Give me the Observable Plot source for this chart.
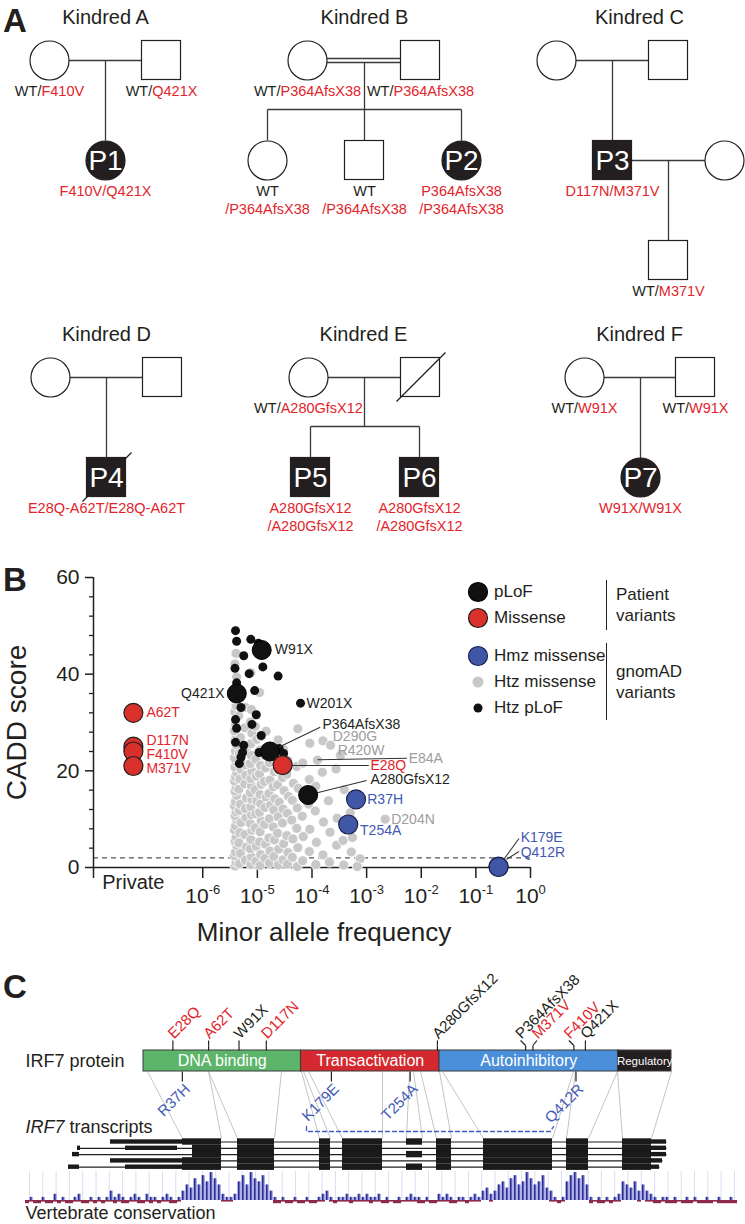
<!DOCTYPE html>
<html>
<head>
<meta charset="utf-8">
<script src="https://cdn.jsdelivr.net/npm/d3@7"></script>
<script src="https://cdn.jsdelivr.net/npm/@observablehq/plot@0.6"></script>
<style>
html,body{margin:0;padding:0;background:#fff;}
#page{position:relative;width:745px;height:1224px;overflow:hidden;font-family:"Liberation Sans",Arial,Helvetica,sans-serif;color:#231f20;}
.panel{position:absolute;left:0;}
.letter{position:absolute;left:3px;font-weight:bold;font-size:33px;line-height:33px;}
.lg{position:absolute;font-size:17px;line-height:21px;white-space:nowrap;}
</style>
</head>
<body>
<div id="page">
  <div class="panel" id="panelA" style="top:0"></div>
  <div class="panel" id="panelB" style="top:550px"></div>
  <div class="panel" id="panelC" style="top:970px"></div>
  <div class="letter" style="top:4px">A</div>
  <div class="letter" style="top:563px">B</div>
  <div class="letter" style="top:970px">C</div>
  <div id="legend"></div>
</div>
<script>
// ======================= DATA =======================
// ---- Panel A: pedigrees ----
const kindreds = ["A", "B", "C", "D", "E", "F"];
const people = [
  {kindred: "A", sex: "F", affected: false, patient: "", genotype: "WT/F410V"},
  {kindred: "A", sex: "M", affected: false, patient: "", genotype: "WT/Q421X"},
  {kindred: "A", sex: "F", affected: true,  patient: "P1", genotype: "F410V/Q421X"},
  {kindred: "B", sex: "F", affected: false, patient: "", genotype: "WT/P364AfsX38"},
  {kindred: "B", sex: "M", affected: false, patient: "", genotype: "WT/P364AfsX38"},
  {kindred: "B", sex: "F", affected: false, patient: "", genotype: "WT\n/P364AfsX38"},
  {kindred: "B", sex: "M", affected: false, patient: "", genotype: "WT\n/P364AfsX38"},
  {kindred: "B", sex: "F", affected: true,  patient: "P2", genotype: "P364AfsX38\n/P364AfsX38"},
  {kindred: "C", sex: "F", affected: false, patient: "", genotype: ""},
  {kindred: "C", sex: "M", affected: false, patient: "", genotype: ""},
  {kindred: "C", sex: "M", affected: true,  patient: "P3", genotype: "D117N/M371V"},
  {kindred: "C", sex: "F", affected: false, patient: "", genotype: ""},
  {kindred: "C", sex: "M", affected: false, patient: "", genotype: "WT/M371V"},
  {kindred: "D", sex: "F", affected: false, patient: "", genotype: ""},
  {kindred: "D", sex: "M", affected: false, patient: "", genotype: ""},
  {kindred: "D", sex: "M", affected: true,  patient: "P4", genotype: "E28Q-A62T/E28Q-A62T", deceased: true},
  {kindred: "E", sex: "F", affected: false, patient: "", genotype: "WT/A280GfsX12"},
  {kindred: "E", sex: "M", affected: false, patient: "", genotype: "", deceased: true},
  {kindred: "E", sex: "M", affected: true,  patient: "P5", genotype: "A280GfsX12\n/A280GfsX12"},
  {kindred: "E", sex: "M", affected: true,  patient: "P6", genotype: "A280GfsX12\n/A280GfsX12"},
  {kindred: "F", sex: "F", affected: false, patient: "", genotype: "WT/W91X"},
  {kindred: "F", sex: "M", affected: false, patient: "", genotype: "WT/W91X"},
  {kindred: "F", sex: "F", affected: true,  patient: "P7", genotype: "W91X/W91X"}
];
// pedigree layout (drawing positions)
const peoplePos = [[49,60],[161,60],[105,160],[307,60],[420,60],[267,160],[364,160],[461,160],
  [556,60],[668,60],[612,160],[724,160],[668,260],[50,377],[162,377],[106,477],[308,377],[420,377],
  [310,477],[419,477],[584,377],[695,377],[640,477]];
const kindredTitlePos = [[105,23],[364,23],[639,23],[106,340],[363,340],[639,340]];
const pedigreeLines = [
  [68,60,142,60],[105,60,105,140],
  [326,58,401,58],[326,62,401,62],[364,62,364,109],[267,109,461,109],[267,109,267,140],[364,109,364,140],[461,109,461,140],
  [575,60,649,60],[612,60,612,140],[631,160,705,160],[668,160,668,240],
  [69,377,143,377],[106,377,106,458],
  [327,377,401,377],[364,377,364,426],[310,426,419,426],[310,426,310,458],[419,426,419,458],
  [603,377,676,377],[640,377,640,458]
];

// ---- Panel B: CADD vs MAF ----
const patientPLoF = [
  {name: "W91X", maf: 1.2e-5, cadd: 45},
  {name: "Q421X", maf: 4.2e-6, cadd: 36},
  {name: "P364AfsX38", maf: 1.7e-5, cadd: 24},
  {name: "A280GfsX12", maf: 8.5e-5, cadd: 15}
];
const patientMissense = [
  {name: "E28Q", maf: 2.9e-5, cadd: 21.2},
  {name: "A62T", maf: null, cadd: 32},
  {name: "D117N", maf: null, cadd: 25},
  {name: "F410V", maf: null, cadd: 24},
  {name: "M371V", maf: null, cadd: 21}
];
const gnomadHmzMissense = [
  {name: "R37H", maf: 6.4e-4, cadd: 14.1},
  {name: "T254A", maf: 4.6e-4, cadd: 8.9},
  {name: "K179E", maf: 0.26, cadd: 0.2},
  {name: "Q412R", maf: 0.26, cadd: 0.1}
];
// [log10 MAF, CADD]
const gnomadHtzMissense = [
[-5.41,0.3],[-5.39,1.1],[-5.42,2.4],[-5.40,3.2],[-5.38,4.6],[-5.41,5.5],[-5.39,6.3],[-5.42,7.8],[-5.40,8.6],[-5.38,9.9],[-5.41,10.7],[-5.39,11.5],[-5.42,12.8],[-5.40,13.6],[-5.38,14.9],[-5.41,15.8],[-5.39,16.6],[-5.42,17.9],[-5.40,18.7],[-5.38,19.6],[-5.41,20.8],[-5.39,21.9],[-5.42,22.7],[-5.40,24.1],[-5.38,25.3],[-5.41,26.2],[-5.39,27.4],[-5.42,28.3],[-5.40,29.6],[-5.38,30.8],[-5.41,32.2],[-5.39,33.5],[-5.42,34.9],[-5.40,37.2],[-5.38,39.4],[-5.41,42.1],[-5.39,44.3],
[-5.33,0.8],[-5.31,2.9],[-5.34,5.1],[-5.32,7.2],[-5.30,9.3],[-5.33,11.8],[-5.31,13.1],[-5.34,16.2],[-5.32,18.3],[-5.30,20.3],[-5.33,23.5],[-5.31,26.9],[-5.34,31.4],[-5.32,35.8],
[-5.22,1.5],[-5.20,4.2],[-5.23,6.8],[-5.21,10.3],[-5.22,12.2],[-5.20,14.4],[-5.23,17.3],[-5.21,19.1],[-5.22,21.2],[-5.20,24.6],[-5.23,28.9],[-5.21,33.1],
[-5.12,0.6],[-5.11,2.2],[-5.13,3.9],[-5.12,5.8],[-5.10,7.7],[-5.13,9.1],[-5.11,10.9],[-5.12,12.6],[-5.10,14.1],[-5.13,15.5],[-5.11,16.9],[-5.12,18.4],[-5.10,19.9],[-5.13,21.5],[-5.11,23.2],[-5.12,25.6],[-5.10,27.8],[-5.13,30.1],[-5.11,32.7],[-5.12,40.3],
[-5.03,1.3],[-5.02,4.4],[-5.04,8.2],[-5.03,11.1],[-5.01,13.7],[-5.04,16.1],[-5.02,18.9],[-5.03,22.4],[-5.01,26.5],[-5.04,29.2],
[-4.95,0.4],[-4.94,2.7],[-4.96,5.3],[-4.95,7.4],[-4.93,9.6],[-4.96,11.4],[-4.94,13.2],[-4.95,15.1],[-4.93,17.2],[-4.96,19.4],[-4.94,21.1],[-4.95,24.3],[-4.93,27.1],[-4.96,36.2],
[-4.86,1.9],[-4.85,4.8],[-4.87,8.9],[-4.86,12.4],[-4.84,14.6],[-4.87,17.8],[-4.85,20.6],[-4.86,23.1],[-4.84,28.2],
[-4.78,0.9],[-4.77,3.4],[-4.79,6.1],[-4.78,10.1],[-4.76,12.9],[-4.79,15.3],[-4.77,18.1],[-4.78,21.7],[-4.76,25.1],
[-4.70,2.3],[-4.69,5.7],[-4.71,8.4],[-4.70,11.9],[-4.68,14.2],[-4.71,16.7],[-4.69,19.8],[-4.70,22.9],
[-4.62,0.5],[-4.61,3.8],[-4.63,7.1],[-4.62,10.5],[-4.60,13.5],[-4.63,17.1],[-4.61,20.1],[-4.62,26.4],
[-4.53,1.6],[-4.52,4.9],[-4.54,9.2],[-4.53,12.1],[-4.51,15.9],[-4.54,18.6],[-4.52,24.4],
[-4.45,0.7],[-4.44,3.1],[-4.46,6.6],[-4.45,11.2],[-4.43,14.7],[-4.46,19.3],[-4.44,22.1],
[-4.36,2.1],[-4.35,5.9],[-4.37,9.8],[-4.36,13.9],[-4.34,17.4],
[-4.27,0.2],[-4.26,4.1],[-4.28,8.1],[-4.27,12.3],[-4.25,16.4],[-4.28,20.9],[-4.26,28.7],
[-4.17,1.4],[-4.16,6.4],[-4.18,10.6],[-4.17,21.6],
[-4.05,3.3],[-4.04,7.9],[-4.06,13.1],[-4.05,18.2],[-4.04,25.7],
[-3.93,0.6],[-3.92,5.2],[-3.94,11.7],[-3.90,22.2],[-3.93,16.8],
[-3.80,2.6],[-3.79,9.4],[-3.81,19.7],[-3.80,26.2],
[-3.68,1.1],[-3.67,7.3],[-3.70,13.8],[-3.66,25.3],
[-3.55,4.6],[-3.54,10.2],[-3.56,20.4],[-3.48,23.2],
[-3.42,0.5],[-3.43,5.6],[-3.41,16.1],
[-3.28,3.2],[-3.26,6.2],[-3.30,11.3],
[-3.12,1.8],[-3.17,0.2],
[-2.66,10]
];
const gnomadHtzPLoF = [
[-5.40,49],[-5.38,46.8],[-5.12,47.2],[-4.98,46.4],[-5.25,43.8],[-5.41,41.2],[-4.90,41.5],[-5.15,40.1],
[-4.62,39.6],[-5.38,38.2],[-5.05,36.6],[-4.21,34],[-5.30,33.1],[-5.02,31.6],[-5.40,30.6],[-5.10,29.6],
[-5.38,28.8],[-4.93,27.3],[-5.40,25.9],[-5.25,25.3],[-5.27,23.8],[-5.33,21.5],[-5.30,22.8],[-4.97,23.8],
[-4.52,23.6],[-4.60,24.6]
];
const yTicksMajor = [0, 20, 40, 60];
const yTicksMinor = [4, 8, 12, 16, 24, 28, 32, 36, 44, 48, 52, 56];
const xTicks = [1e-8, 1e-6, 1e-5, 1e-4, 1e-3, 1e-2, 1e-1, 1];
const caddThreshold = 2;
const legendLabels = ["pLoF", "Missense", "Hmz missense", "Htz missense", "Htz pLoF"];
const legendGroups = [["Patient", "variants"], ["gnomAD", "variants"]];
// annotation layout (label anchor positions in data space)
const PRIVATE_MAF = Math.pow(10, -7.27);
const labelsB = [
  {text: "W91X", lx: -4.92, y: 45, dx: 13, anchor: "start", c: "k"},
  {text: "Q421X", lx: -5.38, y: 36, dx: -12, anchor: "end", c: "k"},
  {text: "W201X", lx: -4.21, y: 34, dx: 6, anchor: "start", c: "k"},
  {text: "P364AfsX38", lx: -3.81, y: 29.6, dx: 0, anchor: "start", c: "k"},
  {text: "D290G", lx: -3.62, y: 27.0, dx: 0, anchor: "start", c: "g"},
  {text: "R420W", lx: -3.53, y: 24.2, dx: 0, anchor: "start", c: "g"},
  {text: "E84A", lx: -2.23, y: 22.6, dx: 0, anchor: "start", c: "g"},
  {text: "E28Q", lx: -2.93, y: 21.1, dx: 0, anchor: "start", c: "r"},
  {text: "A280GfsX12", lx: -2.93, y: 18.2, dx: 0, anchor: "start", c: "k"},
  {text: "R37H", lx: -3.19, y: 14.1, dx: 11, anchor: "start", c: "b"},
  {text: "D204N", lx: -2.66, y: 10, dx: 6, anchor: "start", c: "g"},
  {text: "T254A", lx: -3.34, y: 7.7, dx: 12, anchor: "start", c: "b"},
  {text: "K179E", lx: -0.18, y: 6.3, dx: 0, anchor: "start", c: "b"},
  {text: "Q412R", lx: -0.18, y: 3.2, dx: 0, anchor: "start", c: "b"},
  {text: "A62T", lx: null, y: 32, dx: 13, anchor: "start", c: "r"},
  {text: "D117N", lx: null, y: 26.3, dx: 13, anchor: "start", c: "r"},
  {text: "F410V", lx: null, y: 23.4, dx: 13, anchor: "start", c: "r"},
  {text: "M371V", lx: null, y: 20.4, dx: 13, anchor: "start", c: "r"}
];
const leadersB = [
  {lx1: -4.77, y1: 24, lx2: -3.85, y2: 29.0},
  {lx1: -4.53, y1: 21.1, lx2: -2.96, y2: 21.1},
  {lx1: -3.90, y1: 22.3, lx2: -2.26, y2: 22.6},
  {lx1: -4.07, y1: 15, lx2: -3.0, y2: 18.0},
  {lx1: -0.50, y1: 1.5, lx2: -0.21, y2: 6.0},
  {lx1: -0.44, y1: 1.7, lx2: -0.21, y2: 3.3}
];

// ---- Panel C: IRF7 protein / transcripts ----
const proteinLength = 503;
const domainNames = ["DNA binding", "Transactivation", "Autoinhibitory", "Regulatory"];
const domainStart = [0, 150, 282, 452];
const domainEnd = [150, 282, 452, 503];
const upperMutations = [
  {aa: 28, name: "E28Q", type: "missense"}, {aa: 62, name: "A62T", type: "missense"},
  {aa: 91, name: "W91X", type: "pLoF"}, {aa: 117, name: "D117N", type: "missense"},
  {aa: 280, name: "A280GfsX12", type: "pLoF"}, {aa: 364, name: "P364AfsX38", type: "pLoF"},
  {aa: 371, name: "M371V", type: "missense"}, {aa: 410, name: "F410V", type: "missense"},
  {aa: 421, name: "Q421X", type: "pLoF"}
];
const lowerMutations = [
  {aa: 37, name: "R37H"}, {aa: 179, name: "K179E"}, {aa: 254, name: "T254A"}, {aa: 412, name: "Q412R"}
];
const upperBend = {"P364AfsX38": -5, "M371V": 4, "F410V": -5};
// transcript structure (track layout)
const codingExons = [[182,221],[237,274],[319,330],[342,382],[436,451],[483,552],[566,588],[622,651]];
const altExon = [406, 422];
const altExonRows = [0, 2, 4];
const firstExonStart = [182, 192, 192, 182, 182];
const transcriptSpan = [[110,666],[77,666],[72,666],[110,662],[68,659]];
const utrBlocks = [[0,110,182],[1,77,80],[1,125,177],[2,72,79],[3,110,182],[4,68,79],[4,125,182],
  [0,651,666],[1,651,666],[2,651,666],[3,651,662],[4,651,659]];
const mapLines = [[147,182],[208,221],[208,237],[281,274],[301,319],[303,330],[308,342],[382,382],[409,406],
  [413,422],[420,436],[439,451],[442,483],[573,552],[575,566],[617,588],[617,622],[671,651]];
// conservation levels (0-9) in 4px bins from x=25, and negative (0-2)
const consLevels = "010010020100"+"120010101"+"312101210211012101"+"3547586975"+"2112"+"685976853"+"101001001001"+"231"+"01"+"1211212112"+"010010"+"1211"+"0100"+"2121"+"0110121"+"3423"+"56478569756843"+"101"+"689785"+"10101012"+"65463532"+"101101001010010010010";
const consNeg = "212212212122"+"112212121"+"121221122121211221"+"0000000000"+"1110"+"000000000"+"221221221221"+"101"+"21"+"1121111211"+"221221"+"1112"+"2122"+"1112"+"2112111"+"0010"+"00000000000001"+"121"+"000000"+"21221211"+"00001011"+"221222122212222122222";

// ======================= STYLE =======================
const BLACK = "#231f20", RED = "#e3242b", TBLUE = "#3f5ab5", TGRAY = "#9d9d9d";
const MISS = "#d8302b", HMZ = "#4057a8";
const FONT = '"Liberation Sans", Arial, Helvetica, sans-serif';
const baseStyle = {fontFamily: FONT, background: "transparent", color: BLACK, overflow: "visible"};
const textColor = {k: BLACK, r: RED, b: TBLUE, g: TGRAY};

// ======================= PANEL A =======================
const ppl = people.map((p, i) => ({...p, x: peoplePos[i][0], y: peoplePos[i][1]}));
const circles = ppl.filter(p => p.sex === "F");
const squares = ppl.filter(p => p.sex === "M");
const slashes = ppl.filter(p => p.deceased);
const titles = kindreds.map((k, i) => ({text: "Kindred " + k, x: kindredTitlePos[i][0], y: kindredTitlePos[i][1]}));
const genoLines = [];
ppl.forEach(p => {
  if (!p.genotype) return;
  p.genotype.split("\n").forEach((line, j) => {
    genoLines.push({text: line, x: p.x, y: p.y + 35 + j * 18,
      fill: (p.affected ? RED : (line === "WT" || line.startsWith("WT/") ? BLACK : RED))});
  });
});
const links = pedigreeLines.map(([x1, y1, x2, y2]) => ({x1, y1, x2, y2}));
const S = 19.5;
const plotA = Plot.plot({
  width: 745, height: 550, margin: 0,
  x: {domain: [0, 745], range: [0, 745], axis: null},
  y: {domain: [0, 550], range: [0, 550], axis: null},
  color: {type: "identity"},
  style: baseStyle,
  marks: [
    Plot.link(links, {x1: "x1", y1: "y1", x2: "x2", y2: "y2", stroke: "#3a3a3a", strokeWidth: 1.3}),
    Plot.dot(circles, {x: "x", y: "y", r: S, fill: d => d.affected ? BLACK : "white", stroke: BLACK, strokeWidth: 1.2}),
    Plot.rect(squares, {x1: d => d.x - S, x2: d => d.x + S, y1: d => d.y - S, y2: d => d.y + S,
      fill: d => d.affected ? BLACK : "white", stroke: BLACK, strokeWidth: 1.2}),
    Plot.link(slashes, {x1: d => d.x - 24, y1: d => d.y + 24, x2: d => d.x + 25, y2: d => d.y - 25, stroke: BLACK, strokeWidth: 1.3}),
    Plot.text(ppl.filter(p => p.patient), {x: "x", y: "y", text: "patient", fill: "white", fontSize: 28, lineAnchor: "middle", dy: 1}),
    Plot.text(titles, {x: "x", y: "y", text: "text", fontSize: 20, lineAnchor: "bottom", fill: BLACK}),
    Plot.text(genoLines, {x: "x", y: "y", text: "text", fill: "fill", fontSize: 14.5, lineAnchor: "bottom"})
  ]
});
d3.select(plotA).selectAll("text").each(function () {
  const t = this.textContent;
  if (this.children.length === 0 && /^WT\/.+/.test(t)) {
    this.textContent = "";
    const s = d3.select(this);
    s.append("tspan").attr("fill", BLACK).text("WT/");
    s.append("tspan").attr("fill", RED).text(t.slice(3));
  }
});
document.getElementById("panelA").appendChild(plotA);

// ======================= PANEL B =======================
const grayPts = gnomadHtzMissense.map(([lx, c]) => ({maf: Math.pow(10, lx), cadd: c}));
const blackPts = gnomadHtzPLoF.map(([lx, c]) => ({maf: Math.pow(10, lx), cadd: c}));
const mafOf = d => d.maf == null ? PRIVATE_MAF : d.maf;
const lblB = labelsB.map(d => ({...d, x: d.lx == null ? PRIVATE_MAF : Math.pow(10, d.lx), fill: textColor[d.c]}));
const leadB = leadersB.map(d => ({x1: Math.pow(10, d.lx1), x2: Math.pow(10, d.lx2), y1: d.y1, y2: d.y2}));
const labelMarks = lblB.map(d => Plot.text([d], {x: "x", y: "y", text: "text", fill: d.fill,
  textAnchor: d.anchor, dx: d.dx, fontSize: 14}));
const plotB = Plot.plot({
  width: 745, height: 420, marginLeft: 93, marginRight: 215, marginTop: 27, marginBottom: 103,
  x: {type: "log", domain: [1e-8, 1], axis: null},
  y: {domain: [0, 60], axis: null},
  color: {type: "identity"},
  style: baseStyle,
  marks: [
    Plot.ruleY([caddThreshold], {stroke: "#555", strokeWidth: 1.2, strokeDasharray: "5,4"}),
    Plot.ruleY([0], {stroke: BLACK, strokeWidth: 1.5}),
    Plot.ruleX([1e-8], {y1: 0, y2: 60, stroke: BLACK, strokeWidth: 1.5}),
    Plot.axisY({ticks: yTicksMajor, tickSize: 8, tickPadding: 6, fontSize: 21, label: null, stroke: BLACK, strokeWidth: 1.5}),
    Plot.axisY({ticks: yTicksMinor, tickSize: 4, tickFormat: () => "", label: null, stroke: BLACK, strokeWidth: 1.3}),
    Plot.axisX({ticks: xTicks, tickSize: 11, tickPadding: 10, fontSize: 21, label: null, stroke: BLACK, strokeWidth: 1.5,
      tickFormat: d => d === 1e-8 ? "" : "10^" + Math.round(Math.log10(d))}),
    Plot.dot(grayPts, {x: "maf", y: "cadd", r: 5, fill: "#c8c8c8", stroke: "white", strokeWidth: 0.8}),
    Plot.dot(blackPts, {x: "maf", y: "cadd", r: 4.5, fill: "#111"}),
    Plot.link(leadB, {x1: "x1", y1: "y1", x2: "x2", y2: "y2", stroke: "#333", strokeWidth: 1.1}),
    Plot.dot(patientPLoF, {x: mafOf, y: "cadd", r: 9.5, fill: "#111", stroke: "#000", strokeWidth: 1}),
    Plot.dot(patientMissense, {x: mafOf, y: "cadd", r: 9.5, fill: MISS, stroke: BLACK, strokeWidth: 1.2}),
    Plot.dot(gnomadHmzMissense, {x: "maf", y: "cadd", r: 9.5, fill: HMZ, stroke: "#1d2450", strokeWidth: 1.2}),
    ...labelMarks,
    Plot.text(["Private"], {x: PRIVATE_MAF, y: 0, text: d => d, fontSize: 20, dy: 21, lineAnchor: "bottom"}),
    Plot.text(["CADD score"], {frameAnchor: "left", text: d => d, rotate: -90, dx: -68, fontSize: 28,
      textAnchor: "middle", lineAnchor: "bottom"}),
    Plot.text(["Minor allele frequency"], {frameAnchor: "bottom", text: d => d, dx: 12, dy: 73, fontSize: 26,
      textAnchor: "middle", lineAnchor: "bottom"})
  ]
});
d3.select(plotB).selectAll("text").each(function () {
  const m = /^10\^(-?\d+)$/.exec(this.textContent);
  if (m && this.children.length === 0) {
    this.textContent = "";
    const s = d3.select(this);
    s.append("tspan").text("10");
    s.append("tspan").attr("font-size", 13).attr("dy", -9).text(m[1]);
  }
});
document.getElementById("panelB").appendChild(plotB);

// legend (HTML, beside the plot)
const legendStyle = [
  {fill: "#111", stroke: "#000", r: 9.5}, {fill: MISS, stroke: BLACK, r: 9.5}, {fill: HMZ, stroke: "#1d2450", r: 9.5},
  {fill: "#c8c8c8", stroke: "none", r: 5.5}, {fill: "#111", stroke: "none", r: 4.5}];
const legendRowY = [592, 618, 656, 682, 708];
const legendGroupSpan = [[580, 630], [643, 720]];
const lg = d3.select("#legend");
legendLabels.forEach((lab, i) => {
  const y = legendRowY[i], st = legendStyle[i];
  const sv = lg.append("svg").style("position", "absolute").style("left", "466px").style("top", (y - 11) + "px")
    .attr("width", 24).attr("height", 22);
  sv.append("circle").attr("cx", 12).attr("cy", 11).attr("r", st.r).attr("fill", st.fill)
    .attr("stroke", st.stroke).attr("stroke-width", 1.2);
  lg.append("div").attr("class", "lg").style("left", "494px").style("top", (y - 11) + "px").text(lab);
});
legendGroups.forEach((g, i) => {
  const [y1, y2] = legendGroupSpan[i];
  lg.append("div").style("position", "absolute").style("left", "606px").style("top", y1 + "px")
    .style("height", (y2 - y1) + "px").style("border-left", "1.3px solid " + BLACK);
  lg.append("div").attr("class", "lg").style("left", "616px").style("top", ((y1 + y2) / 2 - 21) + "px")
    .html(g.join("<br>"));
});

// ======================= PANEL C =======================
const aaX = aa => 143 + aa * (671 - 143) / proteinLength;
const BAR_TOP = 1050, BAR_BOT = 1071;
const domains = domainNames.map((n, i) => ({name: n, x1: aaX(domainStart[i]), x2: aaX(domainEnd[i]),
  fill: ["#5cb56a", "#d42a2f", "#4b8fda", "#231f20"][i]}));
const up = upperMutations.map(d => ({...d, x: aaX(d.aa), bend: upperBend[d.name] || 0,
  fill: d.type === "pLoF" ? BLACK : RED}));
const upSegs = [];
up.forEach(d => {
  upSegs.push({x1: d.x, y1: BAR_TOP, x2: d.x, y2: BAR_TOP - 5});
  upSegs.push({x1: d.x, y1: BAR_TOP - 5, x2: d.x + d.bend, y2: BAR_TOP - 10});
});
const low = lowerMutations.map(d => ({...d, x: aaX(d.aa)}));
const rowY = i => 1141.5 + 6.3 * i;
const exonRects = [];
for (let r = 0; r < 5; r++) {
  codingExons.forEach(([a, b], j) => exonRects.push({x1: j === 0 ? firstExonStart[r] : a, x2: b, y1: rowY(r) - 3.2, y2: rowY(r) + 3.2}));
  if (altExonRows.includes(r)) exonRects.push({x1: altExon[0], x2: altExon[1], y1: rowY(r) - 3.2, y2: rowY(r) + 3.2});
}
utrBlocks.forEach(([r, a, b]) => exonRects.push({x1: a, x2: b, y1: rowY(r) - 2.2, y2: rowY(r) + 2.2}));
const introns = transcriptSpan.map(([a, b], r) => ({x1: a, x2: b, y: rowY(r)}));
const maps = mapLines.map(([a, b]) => ({x1: a, y1: BAR_BOT, x2: b, y2: 1138}));
const BASE = 1200;
const cons = consLevels.split("").map((v, i) => ({x: 25 + 4 * i, h: +v * 3.1, n: +consNeg[i] * 1.6}));
const grid = d3.range(29, 738, 13.3);
const dashed = [[306, 1126], [306, 1131], [550, 1131], [553, 1126]];
const trackLabels = ["IRF7 protein", "IRF7 transcripts", "Vertebrate conservation"];
const trackLabelY = [1066, 1132, 1218];
const plotC = Plot.plot({
  width: 745, height: 254, margin: 0,
  x: {domain: [0, 745], range: [0, 745], axis: null},
  y: {domain: [970, 1224], range: [0, 254], axis: null},
  color: {type: "identity"},
  style: baseStyle,
  marks: [
    Plot.ruleX(grid, {y1: 1171, y2: BASE, stroke: "#dcdcf2", strokeWidth: 1}),
    Plot.rect(cons, {x1: "x", x2: d => d.x + 4, y1: d => BASE - d.h, y2: BASE, fill: "#aeb0e6"}),
    Plot.rect(cons, {x1: d => d.x + 1, x2: d => d.x + 2.6, y1: d => BASE - d.h, y2: BASE, fill: "#2b2d94"}),
    Plot.rect(cons, {x1: "x", x2: d => d.x + 4, y1: BASE, y2: d => BASE + d.n, fill: "#8c2a48"}),
    Plot.link(maps, {x1: "x1", y1: "y1", x2: "x2", y2: "y2", stroke: "#bdbdbd", strokeWidth: 0.9}),
    Plot.line(dashed, {x: d => d[0], y: d => d[1], stroke: "#3d5bc4", strokeWidth: 1.3, strokeDasharray: "4,3"}),
    Plot.link(introns, {x1: "x1", x2: "x2", y1: "y", y2: "y", stroke: BLACK, strokeWidth: 1.2}),
    Plot.rect(exonRects, {x1: "x1", x2: "x2", y1: "y1", y2: "y2", fill: "#1a1a1a"}),
    Plot.rect(domains, {x1: "x1", x2: "x2", y1: BAR_TOP, y2: BAR_BOT, fill: "fill", stroke: "#3a3a3a", strokeWidth: 1}),
    Plot.text(domains.slice(0, 3), {x: d => (d.x1 + d.x2) / 2, y: (BAR_TOP + BAR_BOT) / 2, text: "name", fill: "white", fontSize: 16}),
    Plot.text(domains.slice(3), {x: d => (d.x1 + d.x2) / 2, y: (BAR_TOP + BAR_BOT) / 2, text: "name", fill: "white", fontSize: 11.5}),
    Plot.link(upSegs, {x1: "x1", y1: "y1", x2: "x2", y2: "y2", stroke: BLACK, strokeWidth: 1.2}),
    Plot.text(up, {x: d => d.x + d.bend + 1, y: BAR_TOP - 11, text: "name", fill: "fill", rotate: -45,
      textAnchor: "start", lineAnchor: "bottom", fontSize: 15}),
    Plot.link(low, {x1: "x", x2: "x", y1: BAR_BOT, y2: BAR_BOT + 10, stroke: BLACK, strokeWidth: 1.2}),
    Plot.text(low, {x: d => d.x + 1, y: BAR_BOT + 11, text: "name", fill: TBLUE, rotate: -45,
      textAnchor: "end", lineAnchor: "top", fontSize: 15}),
    Plot.text(trackLabels, {x: 25, y: (d, i) => trackLabelY[i], text: d => d, textAnchor: "start", lineAnchor: "bottom", fontSize: 18, fill: BLACK})
  ]
});
d3.select(plotC).selectAll("text").each(function () {
  if (this.textContent === "IRF7 transcripts" && this.children.length === 0) {
    this.textContent = "";
    const s = d3.select(this).style("white-space", "pre");
    s.append("tspan").attr("font-style", "italic").text("IRF7");
    s.append("tspan").text(" transcripts");
  }
});
document.getElementById("panelC").appendChild(plotC);
</script>
</body>
</html>
